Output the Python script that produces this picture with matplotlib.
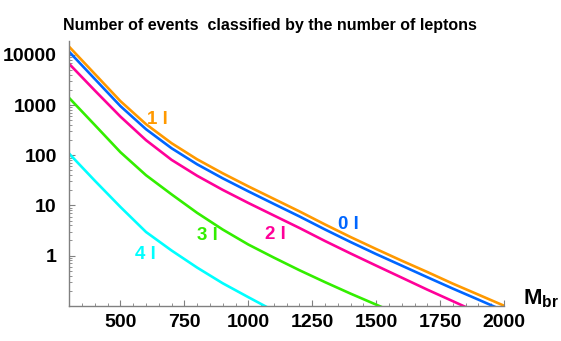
import matplotlib
matplotlib.use("Agg")
import matplotlib.pyplot as plt
from matplotlib.ticker import LogLocator, FixedLocator, MultipleLocator, NullFormatter

plt.rcParams['font.family'] = ['Liberation Sans', 'DejaVu Sans']
plt.rcParams['mathtext.fontset'] = 'custom'
plt.rcParams['mathtext.bf'] = 'Liberation Sans:bold'
plt.rcParams['mathtext.rm'] = 'Liberation Sans:bold'

# Data (events vs M_br)
mbr = [300, 400, 500, 600, 700, 800, 900, 1000, 1100, 1200, 1300, 1400, 1500,
       1600, 1700, 1800, 1900, 2000]
n_1l = [14500, 4170, 1200, 417, 174, 83, 43.7, 24.0, 13.5, 7.6, 4.17, 2.34, 1.35,
        0.79, 0.47, 0.275, 0.166, 0.1]
n_0l = [11500, 3310, 955, 331, 138, 66, 34.7, 19.1, 10.7, 6.03, 3.31, 1.86, 1.07,
        0.63, 0.37, 0.219, 0.132, 0.079]
n_2l = [6600, 1950, 590, 200, 81, 39, 20.4, 11.2, 6.3, 3.55, 1.95, 1.10, 0.63,
        0.363, 0.209, 0.123, 0.072, 0.042]
n_3l = [1380, 400, 115, 40, 16.6, 7.1, 3.3, 1.66, 0.91, 0.51, 0.295, 0.174, 0.105,
        0.063, 0.038, 0.023, 0.014, 0.008]
n_4l = [107, 31, 9.3, 2.95, 1.26, 0.575, 0.28, 0.148, 0.079, 0.042, 0.022, 0.012,
        0.0065, 0.0035, 0.0019, 0.001, 0.0005, 0.0003]

series = [
    (n_1l, '#FF9900', '1 l', 645, 525),
    (n_0l, '#0066FF', '0 l', 1393, 4.1),
    (n_2l, '#FF0099', '2 l', 1105, 2.6),
    (n_3l, '#33EE00', '3 l', 841, 2.47),
    (n_4l, '#00FFFF', '4 l', 596, 1.03),
]

title = "Number of events  classified by the number of leptons"
xticks = [500, 750, 1000, 1250, 1500, 1750, 2000]
yticks = [1, 10, 100, 1000, 10000]
yticklabels = ['1', '10', '100', '1000', '10000']

W, H = 561, 341
fig = plt.figure(figsize=(W / 100, H / 100), dpi=100)
ax = fig.add_axes([69.3 / W, (H - 305.7) / H, (504 - 69.3) / W, (305.7 - 41) / H])

for vals, col, lab, lx, ly in series:
    ax.plot(mbr, vals, color=col, lw=1.9, solid_joinstyle='round')
    ax.text(lx, ly, lab, color=col, fontsize=13.5, fontweight='bold',
            ha='center', va='center')

ax.set_yscale('log')
ax.set_xlim(300, 2000)
ax.set_ylim(0.1, 19000)

ax.xaxis.set_major_locator(FixedLocator(xticks))
ax.xaxis.set_minor_locator(MultipleLocator(50))
ax.yaxis.set_major_locator(FixedLocator(yticks))
ax.set_yticklabels(yticklabels)
ax.yaxis.set_minor_locator(LogLocator(base=10, subs=range(2, 10)))
ax.yaxis.set_minor_formatter(NullFormatter())

for s in ['top', 'right']:
    ax.spines[s].set_visible(False)
for s in ['left', 'bottom']:
    ax.spines[s].set_color('#808080')
    ax.spines[s].set_linewidth(1.0)

ax.tick_params(which='both', direction='in', color='#808080')
ax.tick_params(which='major', length=4, width=0.8)
ax.tick_params(which='minor', length=2.5, width=0.6)
ax.tick_params(axis='y', which='major', labelsize=14, pad=9)
ax.tick_params(axis='x', which='major', labelsize=14, pad=6)
for lbl in ax.get_xticklabels() + ax.get_yticklabels():
    lbl.set_fontweight('bold')

fig.text(270 / W, (H - 30) / H, title, ha='center', va='baseline',
         fontsize=11.5, fontweight='bold')
fig.text(523 / W, (H - 304) / H, r'$\mathbf{M}_{\mathbf{br}}$', ha='left',
         va='baseline', fontsize=16)

fig.savefig('out.png', dpi=100)
